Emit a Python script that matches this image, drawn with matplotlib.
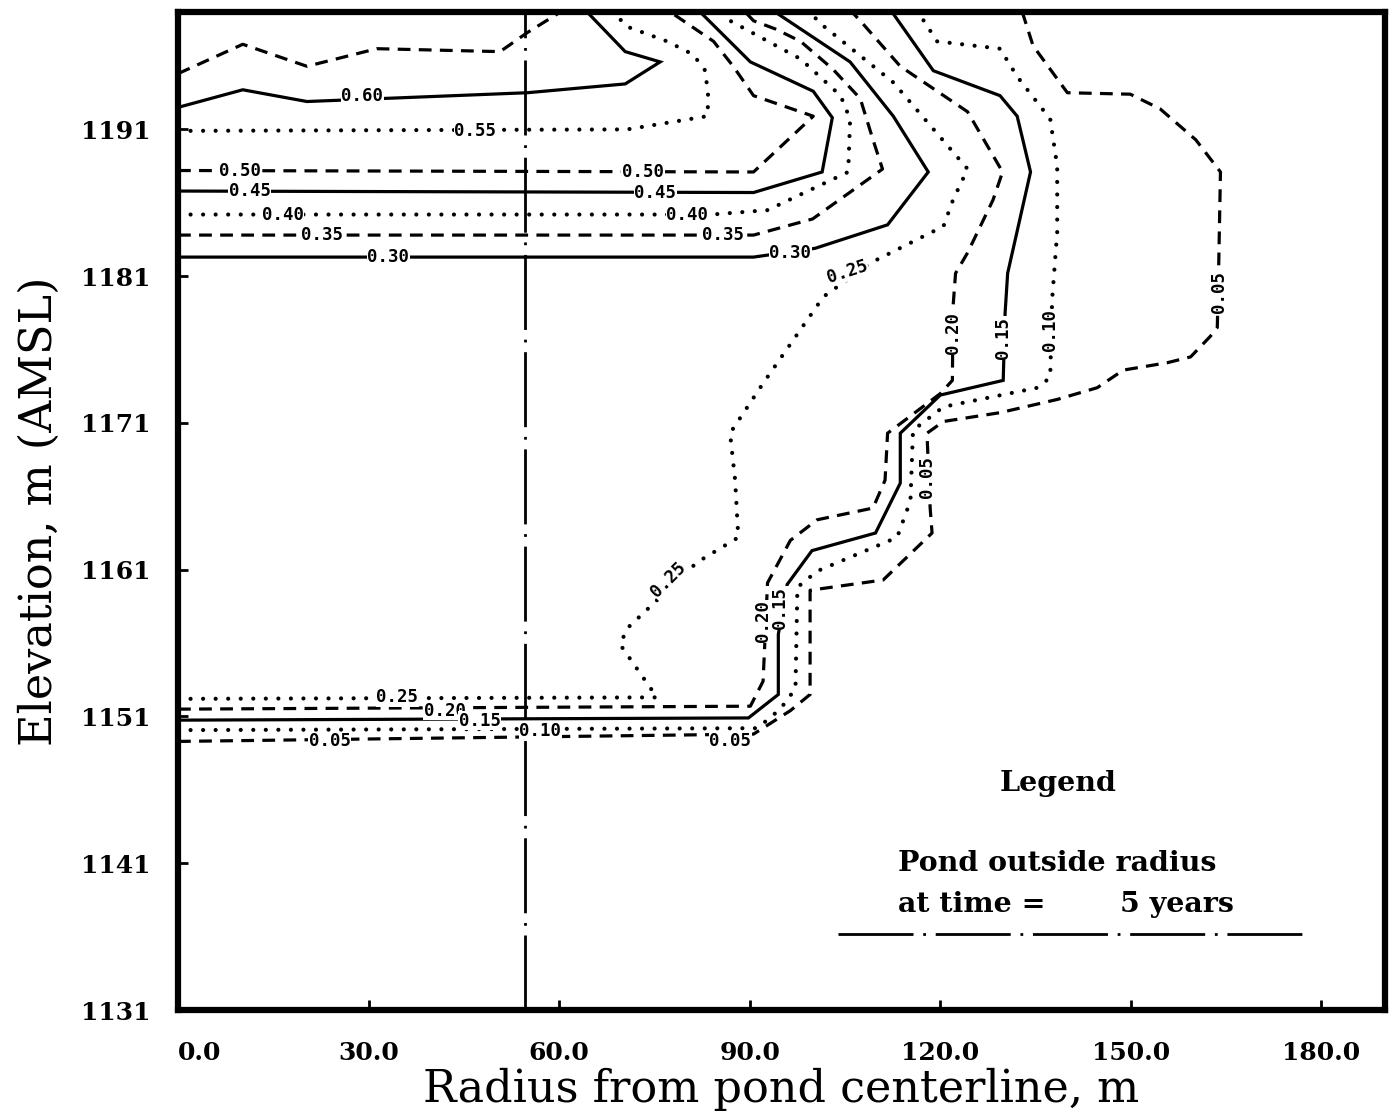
import matplotlib
matplotlib.use("Agg")
import matplotlib.pyplot as plt

# Concentration contours around the pond: radius (m) vs elevation (m AMSL)
r05 = [0, 90.6, 96.4, 99.5, 99.5, 111.0, 118.7, 118.4, 117.9, 120.5, 129.4, 138.4, 144.7,
       148.8, 155.7, 159.4, 162.5, 163.6, 163.8, 164.1, 160.2, 154.6, 149.9, 140.0, 134.6, 132.9]
z05 = [1149.3, 1149.8, 1151.4, 1152.5, 1159.6, 1160.3, 1163.5, 1165.2, 1170.3, 1171.1, 1171.7,
       1172.6, 1173.4, 1174.6, 1175.1, 1175.5, 1176.9, 1177.5, 1181.2, 1188.1, 1190.3, 1192.4,
       1193.4, 1193.5, 1196.7, 1199.0]

r10 = [0, 91.2, 94.8, 97.2, 97.5, 100.6, 113.2, 115.3, 115.7, 120.5, 135.3, 137.3, 137.6,
       138.4, 138.4, 137.3, 132.1, 129.4, 119.5, 116.5]
z10 = [1150.07, 1150.2, 1151.5, 1152.9, 1159.8, 1160.9, 1163.2, 1165.7, 1170.5, 1172.1,
       1173.4, 1174.1, 1179.4, 1184.0, 1188.5, 1191.7, 1194.6, 1196.5, 1197.0, 1199.0]

r15 = [0, 89.8, 94.5, 94.5, 95.9, 99.8, 109.8, 113.7, 113.7, 120.0, 129.9, 130.2, 130.6,
       134.2, 132.1, 129.4, 118.9, 112.4]
z15 = [1150.75, 1150.9, 1152.5, 1156.6, 1160.0, 1162.3, 1163.5, 1166.9, 1170.3, 1172.9,
       1173.9, 1178.5, 1181.2, 1188.1, 1191.9, 1193.3, 1195.0, 1199.0]

r20 = [0, 90.1, 92.1, 92.8, 96.4, 100.6, 109.4, 111.3, 111.7, 120.0, 121.9, 122.0, 122.4,
       124.3, 128.3, 129.8, 124.3, 113.7, 107.4, 106.1]
z20 = [1151.5, 1151.7, 1153.4, 1160.1, 1163.0, 1164.4, 1165.2, 1167.1, 1170.3, 1173.0,
       1173.9, 1178.9, 1181.2, 1182.6, 1186.2, 1188.1, 1192.2, 1195.3, 1198.4, 1199.0]

r25 = [0, 75.4, 69.6, 70.7, 81.7, 88.2, 87.7, 86.9, 92.1, 101.6, 109.0, 120.5, 122.0,
       124.3, 112.6, 100.6, 99.8]
z25 = [1152.2, 1152.3, 1155.9, 1157.0, 1161.5, 1163.2, 1167.1, 1170.3, 1173.7, 1179.6,
       1181.9, 1184.4, 1186.2, 1188.3, 1194.2, 1198.4, 1199.0]

r30 = [0, 90.6, 100.3, 111.7, 118.1, 112.6, 105.8, 94.0]
z30 = [1182.3, 1182.3, 1182.9, 1184.5, 1188.1, 1191.9, 1195.6, 1199.0]

r35 = [0, 90.6, 99.9, 110.9, 109.4, 107.4, 103.1, 98.0, 94.0, 90.6, 89.3]
z35 = [1183.8, 1183.8, 1184.9, 1188.3, 1190.3, 1193.1, 1195.1, 1197.0, 1197.85, 1198.4, 1199.0]

r40 = [0, 84.0, 92.8, 105.5, 105.8, 104.3, 98.0, 86.5, 85.8]
z40 = [1185.2, 1185.2, 1185.5, 1188.1, 1191.7, 1193.3, 1195.8, 1198.5, 1199.0]

r45 = [0, 90.6, 101.4, 103.0, 100.0, 90.1, 82.2]
z45 = [1186.8, 1186.7, 1188.1, 1191.8, 1193.6, 1195.6, 1199.0]

r50 = [0, 90.6, 100.0, 90.6, 87.4, 84.3, 77.5]
z50 = [1188.2, 1188.1, 1191.9, 1193.3, 1195.3, 1197.0, 1199.0]

r55 = [0, 70.7, 83.3, 83.5, 83.0, 81.1, 77.0, 70.7, 68.5]
z55 = [1190.9, 1191.0, 1191.9, 1193.1, 1195.0, 1196.1, 1197.0, 1198.0, 1199.0]

r60 = [0, 10.2, 20.3, 55.0, 70.4, 75.9, 70.4, 64.4]
z60 = [1192.5, 1193.7, 1192.9, 1193.5, 1194.1, 1195.6, 1196.3, 1199.0]

r65 = [0, 10.2, 20.3, 31.3, 50.7, 55.0, 60.2]
z65 = [1194.8, 1196.8, 1195.3, 1196.5, 1196.3, 1197.6, 1199.0]

levels = [0.05, 0.10, 0.15, 0.20, 0.25, 0.30, 0.35, 0.40, 0.45, 0.50, 0.55, 0.60, 0.65]
radii = [r05, r10, r15, r20, r25, r30, r35, r40, r45, r50, r55, r60, r65]
elevs = [z05, z10, z15, z20, z25, z30, z35, z40, z45, z50, z55, z60, z65]

# Inline contour labels: value, radius, elevation, text angle
lab_val = [0.60, 0.55, 0.50, 0.50, 0.45, 0.45, 0.40, 0.40, 0.35, 0.35, 0.30, 0.30,
           0.25, 0.25, 0.20, 0.20, 0.15, 0.15, 0.10, 0.05, 0.05,
           0.25, 0.20, 0.15, 0.10, 0.05, 0.05]
lab_r = [29.0, 46.8, 9.8, 73.2, 11.3, 75.1, 16.5, 80.2, 22.7, 85.8, 33.1, 96.4,
         105.4, 77.2, 122.0, 92.1, 129.9, 94.8, 137.3, 163.8, 117.9,
         34.5, 42.0, 47.5, 57.0, 23.9, 86.9]
lab_z = [1193.3, 1190.9, 1188.2, 1188.1, 1186.8, 1186.7, 1185.2, 1185.2, 1183.8, 1183.8,
         1182.3, 1182.6, 1181.3, 1160.3, 1177.1, 1157.5, 1176.8, 1158.4, 1177.3, 1179.9,
         1167.3, 1152.3, 1151.4, 1150.7, 1150.0, 1149.3, 1149.3]
lab_rot = [0, 0, 0, 0, 0, 0, 0, 0, 0, 0, 0, 0,
           18, 45, 90, 90, 90, 90, 90, 90, 90,
           0, 0, 0, 0, 0, 0]

pond_radius = 54.7
pond_years = 5

x_ticks = [0, 30, 60, 90, 120, 150, 180]
y_ticks = [1131, 1141, 1151, 1161, 1171, 1181, 1191]

# line styles cycle dashed / dotted / solid with increasing level
styles = [
    dict(linestyle=(0, (4.0, 2.6)), linewidth=2.3, dash_capstyle="butt"),
    dict(linestyle=(0, (0.01, 3.0)), linewidth=3.0, dash_capstyle="round"),
    dict(linestyle="-", linewidth=2.3),
]

fig = plt.figure(figsize=(13.95, 11.19), dpi=100)
ax = fig.add_axes([178 / 1395, 1 - 1010 / 1119, (1385 - 178) / 1395, (1010 - 12) / 1119])

for i, (lev, rr, zz) in enumerate(zip(levels, radii, elevs)):
    ax.plot(rr, zz, color="black", solid_joinstyle="miter", **styles[i % 3])

for v, r, z, a in zip(lab_val, lab_r, lab_z, lab_rot):
    ax.text(r, z, f"{v:.2f}", rotation=a, ha="center", va="center",
            family="DejaVu Sans Mono", fontweight="bold", fontsize=12.5,
            rotation_mode="anchor", zorder=5,
            bbox=dict(facecolor="white", edgecolor="none", pad=0.4))

pond_style = dict(color="black", linewidth=2.0, linestyle=(0, (27, 3.5, 1, 3.5)))
ax.axvline(pond_radius, zorder=4, **pond_style)

# legend block
legend_font = dict(family="DejaVu Serif", fontweight="bold", fontsize=20.5)
ax.text(138.6, 1146.4, "Legend", ha="center", va="center", **legend_font)
ax.text(113.4, 1141.0, "Pond outside radius", ha="left", va="center", **legend_font)
ax.text(113.4, 1138.2, "at time =", ha="left", va="center", **legend_font)
ax.text(148.3, 1138.2, f"{pond_years} years", ha="left", va="center", **legend_font)
ax.plot([103.9, 177.5], [1136.2, 1136.2], **pond_style)

ax.set_xlim(0, 190)
ax.set_ylim(1131, 1199)
ax.set_xticks(x_ticks)
ax.set_xticklabels([f"{t:.1f}" for t in x_ticks])
ax.set_yticks(y_ticks)
ax.set_yticklabels([str(t) for t in y_ticks])
ax.get_xticklabels()[0].set_horizontalalignment("left")

ax.tick_params(direction="in", length=7, width=2)
ax.tick_params(axis="x", pad=22)
ax.tick_params(axis="y", pad=20)
for lbl in ax.get_xticklabels() + ax.get_yticklabels():
    lbl.set_family("DejaVu Serif")
    lbl.set_fontweight("bold")
    lbl.set_fontsize(18)

for sp in ax.spines.values():
    sp.set_linewidth(4.5)

ax.set_xlabel("Radius from pond centerline, m", family="DejaVu Serif", fontsize=32, labelpad=2)
ax.set_ylabel("Elevation, m (AMSL)", family="DejaVu Serif", fontsize=32, labelpad=14)

fig.savefig("out.png", dpi=100)
